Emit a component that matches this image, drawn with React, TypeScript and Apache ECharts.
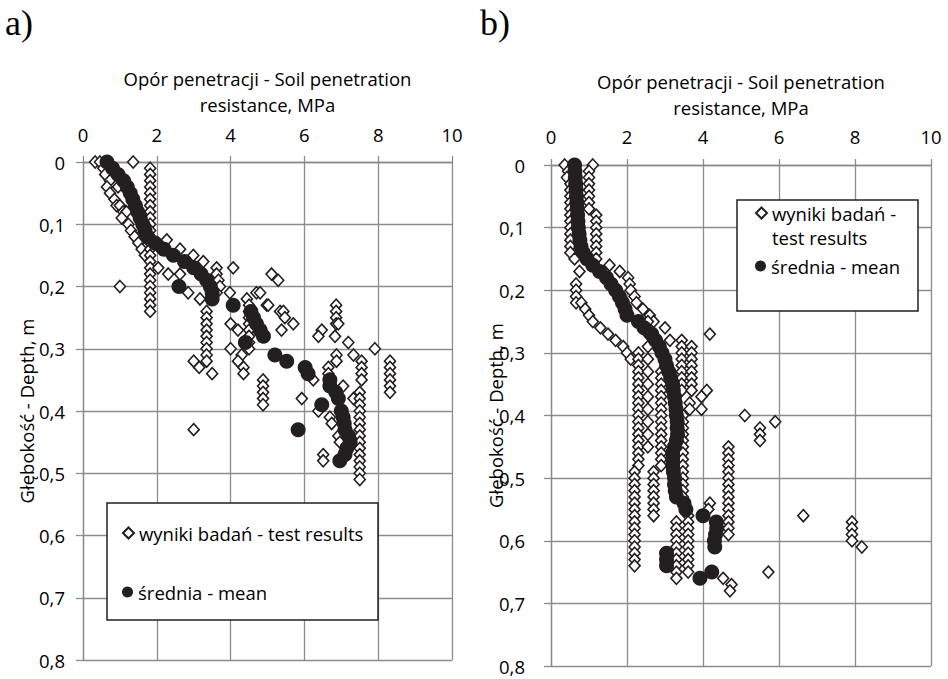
import React, { useEffect, useRef } from "react";
import * as echarts from "echarts";

// ---------- data (x = resistance MPa, y = depth m) ----------
const xTicks = [0, 2, 4, 6, 8, 10];
const yTicks = [0, 0.1, 0.2, 0.3, 0.4, 0.5, 0.6, 0.7, 0.8];
const panelLabels = ["a)", "b)"];
const testName = "wyniki badań - test results";
const meanName = "średnia - mean";
const xTitle = "Opór penetracji - Soil penetration\nresistance, MPa";
const yTitle = "Głębokość - Depth, m";

const aTest: [number, number][] = [
  [0.33, 0], [0.46, 0], [1.36, 0], [0.55, 0.01], [0.6, 0.02], [0.73, 0.03], [0.95, 0.04], [0.65, 0.04],
  [0.73, 0.05], [0.85, 0.06], [0.91, 0.07], [1.0, 0.07], [1.09, 0.08], [1.18, 0.08], [1.05, 0.09],
  [1.23, 0.1], [1.3, 0.11], [1.54, 0.12], [1.4, 0.12], [1.5, 0.13], [1.59, 0.14], [1.68, 0.15],
  [1.82, 0.01], [1.82, 0.02], [1.82, 0.03], [1.82, 0.04], [1.82, 0.05], [1.82, 0.06], [1.82, 0.07],
  [1.82, 0.08], [1.82, 0.09], [1.82, 0.1], [1.82, 0.11], [1.82, 0.12], [1.82, 0.13], [1.82, 0.14],
  [1.82, 0.15], [1.82, 0.16], [1.82, 0.17], [1.82, 0.18], [1.82, 0.19], [1.82, 0.2], [1.82, 0.21],
  [1.82, 0.22], [1.82, 0.23], [1.82, 0.24],
  [1.0, 0.2],
  [2.1, 0.14], [2.27, 0.125], [2.4, 0.15], [2.63, 0.14], [2.8, 0.16], [2.99, 0.15], [3.0, 0.17],
  [3.2, 0.18], [3.26, 0.16], [3.4, 0.19], [3.62, 0.17], [4.07, 0.17], [2.04, 0.17], [2.31, 0.18],
  [2.63, 0.18], [2.85, 0.21], [3.17, 0.22], [3.62, 0.18], [3.67, 0.19], [3.71, 0.2], [3.62, 0.21],
  [3.98, 0.21], [4.44, 0.22], [4.7, 0.21], [5.11, 0.18], [5.29, 0.19], [4.8, 0.21], [4.98, 0.23],
  [5.02, 0.23], [5.34, 0.24], [5.43, 0.24], [5.47, 0.25], [5.7, 0.26], [5.38, 0.27],
  [3.35, 0.24], [3.35, 0.25], [3.35, 0.26], [3.35, 0.27], [3.35, 0.28], [3.35, 0.29], [3.35, 0.3],
  [3.35, 0.31], [3.35, 0.32], [3.0, 0.32], [3.15, 0.33], [3.5, 0.34],
  [4.5, 0.23], [4.5, 0.24], [4.5, 0.25], [4.5, 0.26], [4.5, 0.27], [4.5, 0.28], [4.5, 0.29], [4.5, 0.3],
  [4.0, 0.26], [4.2, 0.27], [4.0, 0.3], [4.3, 0.31], [4.2, 0.32], [4.35, 0.33], [4.35, 0.34], [3.0, 0.43],
  [4.88, 0.35], [4.88, 0.36], [4.88, 0.37], [4.88, 0.38], [4.88, 0.39],
  [6.86, 0.23], [6.86, 0.24], [6.86, 0.25], [6.86, 0.26], [6.92, 0.26], [6.47, 0.27], [6.38, 0.28],
  [6.83, 0.28], [7.19, 0.29], [7.91, 0.3], [7.33, 0.31], [6.87, 0.31], [6.87, 0.32], [6.65, 0.33], [6.65, 0.34],
  [7.55, 0.32], [7.55, 0.33], [7.55, 0.34], [7.55, 0.35],
  [8.32, 0.32], [8.32, 0.33], [8.32, 0.34], [8.32, 0.35], [8.32, 0.36], [8.32, 0.37],
  [6.24, 0.35], [5.93, 0.38], [7.05, 0.36], [7.33, 0.38],
  [7.5, 0.37], [7.5, 0.38], [7.5, 0.39], [7.5, 0.4], [7.5, 0.41], [7.5, 0.42], [7.5, 0.43], [7.5, 0.44],
  [7.5, 0.45], [7.5, 0.46], [7.5, 0.47], [7.5, 0.48], [7.5, 0.49], [7.5, 0.5], [7.5, 0.51],
  [6.38, 0.4], [6.69, 0.41], [6.74, 0.42], [6.92, 0.44], [6.96, 0.45], [6.51, 0.47], [6.51, 0.48],
];

const aMean: [number, number][] = [
  [0.65, 0], [0.8, 0.01], [0.95, 0.02], [1.1, 0.03], [1.2, 0.04], [1.28, 0.05], [1.35, 0.06], [1.42, 0.07],
  [1.48, 0.08], [1.55, 0.09], [1.62, 0.1], [1.68, 0.11], [1.75, 0.12], [1.95, 0.13], [2.2, 0.14],
  [2.45, 0.15], [2.75, 0.16], [3.0, 0.17], [3.2, 0.18], [3.35, 0.19], [3.45, 0.2], [3.5, 0.21],
  [3.5, 0.22], [2.6, 0.2], [4.07, 0.23], [4.55, 0.24], [4.62, 0.25], [4.7, 0.26], [4.8, 0.27],
  [4.89, 0.28], [4.4, 0.29], [5.2, 0.31], [5.52, 0.32], [6.02, 0.33], [6.1, 0.34], [6.69, 0.35],
  [6.69, 0.36], [6.85, 0.37], [6.92, 0.38], [6.47, 0.39], [7.0, 0.4], [7.05, 0.41], [7.08, 0.42],
  [7.1, 0.43], [5.83, 0.43], [7.2, 0.44], [7.24, 0.45], [7.15, 0.46], [7.1, 0.47], [6.96, 0.48],
];

const bTest: [number, number][] = [
  [0.36, 0], [0.45, 0.01], [0.42, 0.02], [0.51, 0.03], [0.51, 0.04], [0.51, 0.05], [0.51, 0.06],
  [0.51, 0.07], [0.51, 0.08], [0.51, 0.09], [0.51, 0.1], [0.51, 0.11], [0.51, 0.12], [0.51, 0.13],
  [0.51, 0.14], [0.62, 0.15], [0.75, 0.17], [0.66, 0.19], [0.66, 0.2], [0.66, 0.21], [0.66, 0.22],
  [1.1, 0], [1.0, 0.01], [1.0, 0.02], [1.0, 0.03], [1.0, 0.04], [1.0, 0.05], [1.0, 0.06], [1.0, 0.07],
  [1.19, 0.08], [1.19, 0.09], [1.19, 0.1], [1.19, 0.11], [1.19, 0.12], [1.19, 0.13], [1.19, 0.14], [1.19, 0.15],
  [1.54, 0.16], [1.81, 0.17], [2.03, 0.18], [2.07, 0.19], [2.1, 0.2], [2.2, 0.21], [2.25, 0.22],
  [2.42, 0.23], [2.6, 0.24], [2.7, 0.25],
  [0.8, 0.22], [0.9, 0.23], [1.0, 0.24], [1.1, 0.25], [1.3, 0.26], [1.5, 0.27], [1.7, 0.28], [1.9, 0.29],
  [2.0, 0.3], [2.1, 0.31],
  [2.3, 0.3], [2.3, 0.31], [2.3, 0.32], [2.3, 0.33], [2.3, 0.34], [2.3, 0.35], [2.3, 0.36], [2.3, 0.37],
  [2.3, 0.38], [2.3, 0.39], [2.3, 0.4], [2.3, 0.41], [2.3, 0.42], [2.3, 0.43], [2.3, 0.44], [2.3, 0.45],
  [2.3, 0.46], [2.3, 0.47], [2.3, 0.48],
  [2.2, 0.49], [2.2, 0.5], [2.2, 0.51], [2.2, 0.52], [2.2, 0.53], [2.2, 0.54], [2.2, 0.55], [2.2, 0.56],
  [2.2, 0.57], [2.2, 0.58], [2.2, 0.59], [2.2, 0.6], [2.2, 0.61], [2.2, 0.62], [2.2, 0.63], [2.2, 0.64],
  [2.55, 0.25], [2.55, 0.27], [2.55, 0.29], [2.55, 0.31], [2.55, 0.33], [2.55, 0.35], [2.55, 0.37],
  [2.55, 0.39], [2.55, 0.41], [2.55, 0.43], [2.55, 0.45],
  [2.9, 0.33], [2.9, 0.34], [2.9, 0.35], [2.9, 0.36], [2.9, 0.37], [2.9, 0.38], [2.9, 0.39], [2.9, 0.4],
  [2.9, 0.41], [2.9, 0.42], [2.9, 0.43], [2.9, 0.44], [2.9, 0.45], [2.9, 0.46], [2.9, 0.47], [2.9, 0.48],
  [2.7, 0.49], [2.7, 0.5], [2.7, 0.51], [2.7, 0.52], [2.7, 0.53], [2.7, 0.54], [2.7, 0.55], [2.7, 0.56],
  [3.0, 0.26], [3.13, 0.28], [4.18, 0.27],
  [3.44, 0.28], [3.44, 0.29], [3.44, 0.3], [3.44, 0.31], [3.44, 0.32], [3.44, 0.33], [3.44, 0.34],
  [3.44, 0.35], [3.44, 0.36],
  [3.7, 0.29], [3.7, 0.3], [3.7, 0.31], [3.7, 0.32], [3.7, 0.33], [3.7, 0.34], [3.7, 0.35], [3.7, 0.36],
  [4.1, 0.36], [3.96, 0.37], [3.96, 0.39], [3.65, 0.38], [3.65, 0.39], [5.1, 0.4], [5.9, 0.41],
  [5.5, 0.42], [5.5, 0.43], [5.5, 0.44],
  [3.47, 0.4], [3.47, 0.41], [3.47, 0.42], [3.47, 0.43], [3.47, 0.44], [3.47, 0.45], [3.47, 0.46],
  [3.47, 0.47], [3.47, 0.48], [3.47, 0.49], [3.47, 0.5], [3.47, 0.51], [3.47, 0.52], [3.47, 0.53], [3.47, 0.54],
  [4.67, 0.45], [4.67, 0.46], [4.67, 0.47], [4.67, 0.48], [4.67, 0.49], [4.67, 0.5], [4.67, 0.51],
  [4.67, 0.52], [4.67, 0.53], [4.67, 0.54], [4.67, 0.55], [4.67, 0.56], [4.67, 0.57], [4.67, 0.58], [4.67, 0.59],
  [4.18, 0.54], [4.14, 0.55],
  [3.3, 0.57], [3.3, 0.58], [3.3, 0.59], [3.3, 0.6], [3.3, 0.61], [3.3, 0.62], [3.3, 0.63], [3.3, 0.64],
  [3.3, 0.65], [3.3, 0.66],
  [3.61, 0.56], [3.61, 0.57], [3.61, 0.58], [3.61, 0.59], [3.61, 0.6], [3.61, 0.61], [3.61, 0.62],
  [3.61, 0.63], [3.61, 0.64], [3.61, 0.65],
  [4.53, 0.66], [4.75, 0.67], [4.71, 0.68], [6.64, 0.56], [5.72, 0.65],
  [7.92, 0.57], [7.92, 0.58], [7.92, 0.59], [7.92, 0.6], [8.18, 0.61],
];

const bMean: [number, number][] = [
  [0.62, 0], [0.63, 0.01], [0.64, 0.02], [0.65, 0.03], [0.66, 0.04], [0.67, 0.05], [0.68, 0.06],
  [0.69, 0.07], [0.7, 0.08], [0.71, 0.09], [0.72, 0.1], [0.74, 0.11], [0.76, 0.12], [0.79, 0.13],
  [0.85, 0.14], [0.95, 0.15], [1.1, 0.16], [1.28, 0.17], [1.46, 0.18], [1.58, 0.19], [1.7, 0.2],
  [1.8, 0.21], [1.88, 0.22], [1.95, 0.23], [2.0, 0.24], [2.3, 0.25], [2.45, 0.26], [2.65, 0.27],
  [2.75, 0.28], [2.85, 0.29], [2.92, 0.3], [3.0, 0.31], [3.04, 0.32], [3.1, 0.33], [3.15, 0.34],
  [3.2, 0.35], [3.22, 0.36], [3.25, 0.37], [3.27, 0.38], [3.29, 0.39], [3.3, 0.4], [3.32, 0.41],
  [3.32, 0.42], [3.33, 0.43], [3.3, 0.44], [3.25, 0.45], [3.2, 0.46], [3.2, 0.47], [3.2, 0.48],
  [3.22, 0.49], [3.25, 0.5], [3.25, 0.51], [3.27, 0.52], [3.3, 0.53], [3.5, 0.54], [3.55, 0.55],
  [4.0, 0.56], [4.35, 0.57], [4.36, 0.58], [4.33, 0.59], [4.3, 0.6], [4.31, 0.61], [3.04, 0.62],
  [3.04, 0.63], [3.04, 0.64], [4.23, 0.65], [3.92, 0.66],
];

// ---------- styling ----------
const FONT = "Open Sans";
const FS = 18.5;
const GRID_COLOR = "#8c8c8c";
const INK = "#231f20";

const grids = [
  { left: 83, top: 162, width: 369, height: 498 },
  { left: 551, top: 165, width: 380, height: 501 },
];
const xLabelMargins = [18, 19];
const xNameGaps = [45, 45];
const yLabelMargins = [18, 26];
const yNameGaps = [47, 46];

function fmtY(v: number) {
  if (v === 0) return "0";
  return v.toFixed(1).replace(".", ",");
}

function makeX(i: number) {
  return {
    gridIndex: i,
    type: "value",
    position: "top",
    min: xTicks[0],
    max: xTicks[xTicks.length - 1],
    interval: xTicks[1] - xTicks[0],
    axisLine: { show: true, onZero: false, lineStyle: { color: GRID_COLOR, width: 1.3 } },
    axisTick: { show: true, length: 6, lineStyle: { color: GRID_COLOR, width: 1.3 } },
    splitLine: { show: true, lineStyle: { color: GRID_COLOR, width: 1.3 } },
    axisLabel: { margin: xLabelMargins[i], fontSize: FS, fontFamily: FONT, color: "#000" },
    name: xTitle,
    nameLocation: "middle",
    nameGap: xNameGaps[i],
    nameMoveOverlap: false,
    nameTextStyle: { fontSize: FS, fontFamily: FONT, color: "#000", lineHeight: 26 },
  };
}

function makeY(i: number) {
  return {
    gridIndex: i,
    type: "value",
    inverse: true,
    min: yTicks[0],
    max: yTicks[yTicks.length - 1],
    interval: 0.1,
    axisLine: { show: true, onZero: false, lineStyle: { color: GRID_COLOR, width: 1.3 } },
    axisTick: { show: true, length: 7, lineStyle: { color: GRID_COLOR, width: 1.3 } },
    splitLine: { show: true, lineStyle: { color: GRID_COLOR, width: 1.3 } },
    axisLabel: {
      margin: yLabelMargins[i],
      fontSize: FS,
      lineHeight: 18,
      fontFamily: FONT,
      color: "#000",
      formatter: fmtY,
    },
    name: yTitle,
    nameLocation: "middle",
    nameGap: yNameGaps[i],
    nameMoveOverlap: false,
    nameTextStyle: { fontSize: FS, fontFamily: FONT, color: "#000" },
  };
}

const testStyle = { color: "#ffffff", borderColor: INK, borderWidth: 1.6, opacity: 1 };
const meanStyle = { color: INK, opacity: 1 };

function testSeries(i: number, data: [number, number][]) {
  return {
    type: "scatter",
    name: testName,
    xAxisIndex: i,
    yAxisIndex: i,
    data,
    symbol: "diamond",
    symbolSize: [11, 12],
    itemStyle: testStyle,
    z: 2,
  };
}

function meanSeries(i: number, data: [number, number][]) {
  return {
    type: "scatter",
    name: meanName,
    xAxisIndex: i,
    yAxisIndex: i,
    data,
    symbol: "circle",
    symbolSize: 15,
    itemStyle: meanStyle,
    z: 3,
  };
}

function legendItem(name: string, left: number, top: number, lineHeight: number, formatter?: string) {
  return {
    data: [name],
    left,
    top,
    orient: "vertical",
    padding: 0,
    itemWidth: 11,
    itemHeight: 11,
    itemGap: 0,
    selectedMode: false,
    formatter: formatter ?? "{name}",
    textStyle: { fontSize: FS, fontFamily: FONT, color: "#000", lineHeight },
    z: 20,
  };
}

export default function App() {
  const ref = useRef<HTMLDivElement>(null);
  useEffect(() => {
    if (!ref.current) return;
    const chart = echarts.init(ref.current, null, { renderer: "svg" });
    chart.setOption({
      animation: false,
      backgroundColor: "#ffffff",
      grid: grids,
      xAxis: [makeX(0), makeX(1)],
      yAxis: [makeY(0), makeY(1)],
      series: [testSeries(0, aTest), meanSeries(0, aMean), testSeries(1, bTest), meanSeries(1, bMean)],
      legend: [
        legendItem(testName, 122, 522, 22),
        legendItem(meanName, 122, 581, 22),
        legendItem(testName, 755, 177, 24, " \nwyniki badań -\ntest results"),
        legendItem(meanName, 755, 254, 24),
      ],
      graphic: [
        {
          type: "rect",
          z: 10,
          shape: { x: 107, y: 503, width: 271, height: 117 },
          style: { fill: "#ffffff", stroke: INK, lineWidth: 1.5 },
        },
        {
          type: "rect",
          z: 10,
          shape: { x: 737, y: 200, width: 181, height: 111 },
          style: { fill: "#ffffff", stroke: INK, lineWidth: 1.5 },
        },
        {
          type: "text",
          left: 5,
          top: 5,
          style: { text: panelLabels[0], font: '36px "Liberation Serif"', fill: "#000" },
        },
        {
          type: "text",
          left: 480,
          top: 5,
          style: { text: panelLabels[1], font: '36px "Liberation Serif"', fill: "#000" },
        },
      ],
    });
    return () => chart.dispose();
  }, []);
  return (
    <div
      ref={ref}
      style={{ position: "fixed", left: 0, top: 0, width: 948, height: 679, background: "#fff" }}
    />
  );
}
